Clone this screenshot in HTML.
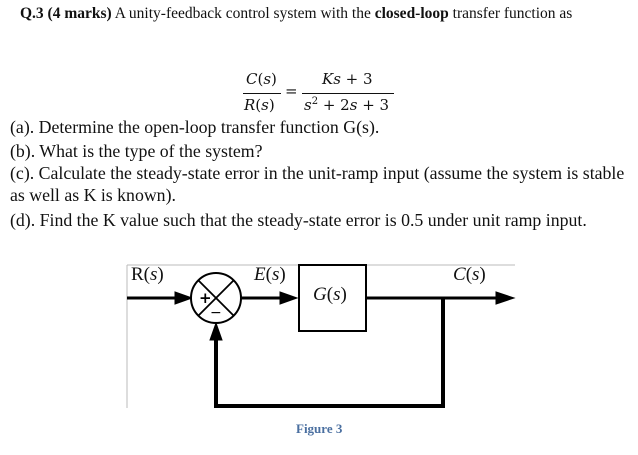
<!DOCTYPE html>
<html><head><style>
body{margin:0;width:638px;height:455px;background:#fff;position:relative;font-family:"Liberation Serif",serif;color:#111;overflow:hidden}
.t{position:absolute;white-space:nowrap}
.e{position:absolute;white-space:nowrap;font-family:"DejaVu Serif",serif;font-size:15px}
</style></head><body>
<div class="t" style="left:20px;top:5px;font-size:15.5px"><b>Q.3 (4 marks)</b> A unity-feedback control system with the <b>closed-loop</b> transfer function as</div>
<div class="e" style="left:246px;top:70px"><i>C</i>(<i>s</i>)</div>
<div class="e" style="left:244px;top:96px"><i>R</i>(<i>s</i>)</div>
<div style="position:absolute;left:243px;top:93px;width:38px;height:1px;background:#111"></div>
<div class="e" style="left:285px;top:82px">=</div>
<div class="e" style="left:322px;top:70px"><i>Ks</i> + 3</div>
<div style="position:absolute;left:302px;top:93px;width:92px;height:1px;background:#111"></div>
<div class="e" style="left:304px;top:96px"><i>s</i><sup style="font-size:10px">2</sup> + 2<i>s</i> + 3</div>
<div class="t" style="left:10px;top:117px;font-size:17.8px">(a). Determine the open-loop transfer function G(s).</div>
<div class="t" style="left:10px;top:141px;font-size:17.8px">(b). What is the type of the system?</div>
<div class="t" style="left:10px;top:163px;font-size:17.8px">(c). Calculate the steady-state error in the unit-ramp input (assume the system is stable</div>
<div class="t" style="left:10px;top:185px;font-size:17.8px">as well as K is known).</div>
<div class="t" style="left:10px;top:210px;font-size:17.8px">(d). Find the K value such that the steady-state error is 0.5 under unit ramp input.</div>
<svg style="position:absolute;left:0;top:0" width="638" height="455">
<line x1="127" y1="265" x2="515" y2="265" stroke="#bbb" stroke-width="1"/>
<line x1="127" y1="265" x2="127" y2="408" stroke="#bbb" stroke-width="1"/>
<g stroke="#000" fill="none">
<line x1="127" y1="298" x2="180" y2="298" stroke-width="3"/>
<polygon points="192,298 175,292 175,304" fill="#000"/>
<circle cx="216" cy="298" r="25" stroke-width="2" fill="#fff"/>
<line x1="198" y1="280" x2="234" y2="316" stroke-width="1.8"/>
<line x1="234" y1="280" x2="198" y2="316" stroke-width="1.8"/>
<line x1="241" y1="298" x2="285" y2="298" stroke-width="3"/>
<polygon points="297,298 280,292 280,304" fill="#000"/>
<rect x="299" y="265" width="67" height="66" stroke-width="2" fill="#fff"/>
<line x1="366" y1="298" x2="500" y2="298" stroke-width="3"/>
<polygon points="514,298 496,292 496,304" fill="#000"/>
<polyline points="443,298 443,406 216,406 216,338" stroke-width="4"/>
<polygon points="216,323 210,340 222,340" fill="#000"/>
</g>
<text x="199" y="303" font-size="15" font-family="DejaVu Sans" font-weight="bold">+</text>
<text x="210" y="317" font-size="14" font-family="DejaVu Sans">−</text>
</svg>
<div class="t" style="left:131px;top:264px;font-size:19px">R(<i>s</i>)</div>
<div class="t" style="left:254px;top:264px;font-size:19px"><i>E</i>(<i>s</i>)</div>
<div class="t" style="left:313px;top:284px;font-size:19px"><i>G</i>(<i>s</i>)</div>
<div class="t" style="left:453px;top:264px;font-size:19px"><i>C</i>(<i>s</i>)</div>
<div class="t" style="left:296px;top:421px;font-size:13px;font-weight:bold;color:#4a6fa0">Figure 3</div>
</body></html>
